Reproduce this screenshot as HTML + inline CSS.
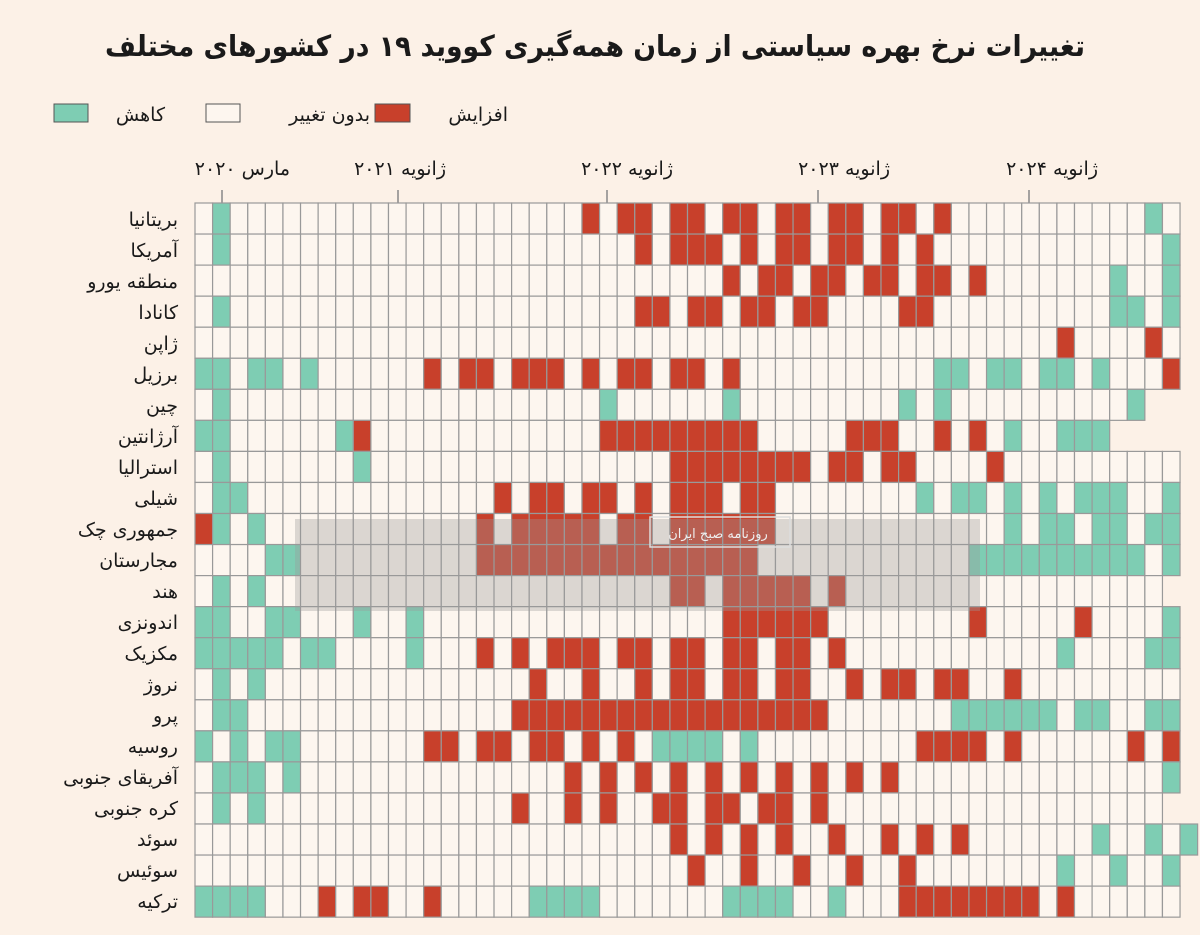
<!DOCTYPE html>
<html><head><meta charset="utf-8">
<style>
html,body{margin:0;padding:0;background:#fcf1e7;}
svg{display:block;}
text{font-family:"DejaVu Sans","Noto Sans CJK SC",sans-serif;fill:#1a1a1a;}
</style></head>
<body>
<svg id="s" width="1200" height="935" viewBox="0 0 1200 935" xmlns="http://www.w3.org/2000/svg">
<rect width="1200" height="935" fill="#fcf1e7"/>
<text x="595" y="56" text-anchor="middle" font-size="29" font-weight="bold" textLength="980" lengthAdjust="spacingAndGlyphs">تغییرات نرخ بهره سیاستی از زمان همه‌گیری کووید ۱۹ در کشورهای مختلف</text>
<!-- legend -->
<rect x="54" y="104" width="34" height="18" fill="#7ecdb3" stroke="#555" stroke-width="1"/>
<text x="165" y="121" text-anchor="end" font-size="19">کاهش</text>
<rect x="206" y="104" width="34" height="18" fill="#fdf6ef" stroke="#555" stroke-width="1"/>
<text x="370" y="121" text-anchor="end" font-size="19">بدون تغییر</text>
<rect x="375" y="104" width="35" height="18" fill="#c8402b" stroke="#555" stroke-width="1"/>
<text x="508" y="121" text-anchor="end" font-size="19">افزایش</text>
<!-- x labels -->
<g font-size="19" text-anchor="end">
<text x="290" y="175">مارس ۲۰۲۰</text>
<text x="446" y="175">ژانویه ۲۰۲۱</text>
<text x="673" y="175">ژانویه ۲۰۲۲</text>
<text x="890" y="175">ژانویه ۲۰۲۳</text>
<text x="1098" y="175">ژانویه ۲۰۲۴</text>
</g>
<g stroke="#888" stroke-width="1.5">
<line x1="222" y1="190" x2="222" y2="203"/>
<line x1="398" y1="190" x2="398" y2="203"/>
<line x1="607" y1="190" x2="607" y2="203"/>
<line x1="818" y1="190" x2="818" y2="203"/>
<line x1="1029" y1="190" x2="1029" y2="203"/>
</g>
<!-- row labels -->
<g font-size="19" text-anchor="end">
<text x="178" y="226">بریتانیا</text>
<text x="178" y="257">آمریکا</text>
<text x="178" y="288">منطقه یورو</text>
<text x="178" y="319">کانادا</text>
<text x="178" y="350">ژاپن</text>
<text x="178" y="381">برزیل</text>
<text x="178" y="412">چین</text>
<text x="178" y="443">آرژانتین</text>
<text x="178" y="474">استرالیا</text>
<text x="178" y="505">شیلی</text>
<text x="178" y="536">جمهوری چک</text>
<text x="178" y="567">مجارستان</text>
<text x="178" y="598">هند</text>
<text x="178" y="629">اندونزی</text>
<text x="178" y="660">مکزیک</text>
<text x="178" y="691">نروژ</text>
<text x="178" y="722">پرو</text>
<text x="178" y="753">روسیه</text>
<text x="178" y="784">آفریقای جنوبی</text>
<text x="178" y="815">کره جنوبی</text>
<text x="178" y="846">سوئد</text>
<text x="178" y="877">سوئیس</text>
<text x="178" y="908">ترکیه</text>
</g>
<g id="cells"></g>
<rect x="295" y="519" width="685" height="92" fill="#9a9a9a" fill-opacity="0.35"/>
<rect x="650" y="517" width="140" height="30" fill="none" stroke="#ddd" stroke-width="1.5"/>
<text x="718" y="538" text-anchor="middle" font-size="13" style="fill:#eee">روزنامه صبح ایران</text>
</svg>
<script>
function R(a,b){var o=[];for(var i=a;i<=b;i++)o.push(i);return o;}
var rows=[
{g:[1,54],r:[22,24,25,27,28,30,31,33,34,36,37,39,40,42]},
{g:[1,55],r:[25,27,28,29,31,33,34,36,37,39,41]},
{g:[52,55],r:[30,32,33,35,36,38,39,41,42,44]},
{g:[1,52,53,55],r:[25,26,28,29,31,32,34,35,40,41]},
{g:[],r:[49,54]},
{g:[0,1,3,4,6,42,43,45,46,48,49,51],r:[13,15,16,18,19,20,22,24,25,27,28,30,55]},
{g:[1,23,30,40,42,53],r:[],n:54},
{g:[0,1,8,46,49,50,51],r:[9].concat(R(23,31),[37,38,39,42,44]),n:52},
{g:[1,9],r:R(27,34).concat([36,37,39,40,45])},
{g:[1,2,41,43,44,46,48,50,51,52,55],r:[17,19,20,22,23,25,27,28,29,31,32]},
{g:[1,3,46,48,49,51,52,54,55],r:[0,16].concat(R(18,22),[24,25],R(27,32))},
{g:[4,5].concat(R(44,53),[55]),r:R(16,31)},
{g:[1,3],r:[27,28].concat(R(30,34),[36]),n:55},
{g:[0,1,4,5,9,12,55],r:R(30,35).concat([44,50])},
{g:R(0,4).concat([6,7,12,49,54,55]),r:[16,18,20,21,22,24,25,27,28,30,31,33,34,36]},
{g:[1,3],r:[19,22,25,27,28,30,31,33,34,37,39,40,42,43,46]},
{g:[1,2].concat(R(43,48),[50,51,54,55]),r:R(18,35)},
{g:[0,2,4,5,26,27,28,29,31],r:[13,14,16,17,19,20,22,24].concat(R(41,44),[46,53,55])},
{g:[1,2,3,5,55],r:[21,23,25,27,29,31,33,35,37,39]},
{g:[1,3],r:[18,21,23,26,27,29,30,32,33,35],n:55},
{g:[51,54,56],r:[27,29,31,33,36,39,41,43],n:57},
{g:[49,52,55],r:[28,31,34,37,40]},
{g:R(0,3).concat(R(19,22),R(30,33),[36]),r:[7,9,10,13].concat(R(40,47),[49])}
];
var x0=195,cw=17.59,y0=203,rh=31.05,h='';
rows.forEach(function(row,ri){
  var n=row.n||56;
  for(var c=0;c<n;c++){
    var f='#fdf6ef';
    if(row.r.indexOf(c)>=0)f='#c8402b';
    else if(row.g.indexOf(c)>=0)f='#7ecdb3';
    h+='<rect x="'+(x0+c*cw).toFixed(2)+'" y="'+(y0+ri*rh).toFixed(2)+'" width="'+cw.toFixed(2)+'" height="'+rh.toFixed(2)+'" fill="'+f+'" stroke="#999" stroke-width="1.2"/>';
  }
});
document.getElementById('cells').innerHTML=h;
</script>
</body></html>
